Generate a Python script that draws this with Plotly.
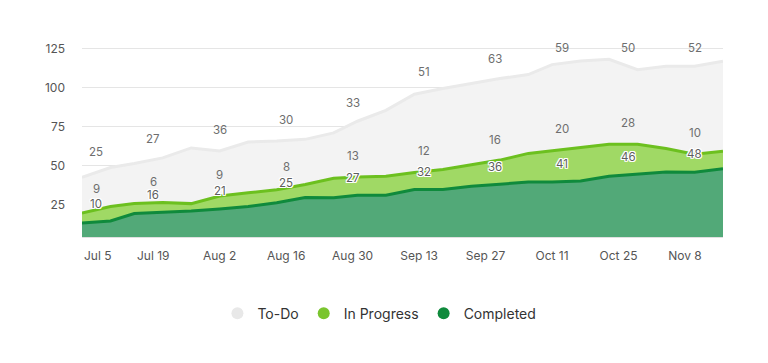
import numpy as np
import pandas as pd
import plotly.graph_objects as go

# ---- data ----
dates = ["2020-07-04", "2020-07-10", "2020-07-15", "2020-07-21", "2020-07-27", "2020-08-02",
         "2020-08-08", "2020-08-14", "2020-08-20", "2020-08-26", "2020-08-31", "2020-09-06",
         "2020-09-12", "2020-09-18", "2020-09-24", "2020-09-30", "2020-10-06", "2020-10-11",
         "2020-10-17", "2020-10-23", "2020-10-29", "2020-11-04", "2020-11-10", "2020-11-16"]
completed = [13.2, 14.5, 19.2, 20.0, 20.9, 22.2, 23.8, 26.2, 29.5, 29.3, 31.0, 31.0,
             34.6, 34.6, 36.8, 38.0, 39.5, 39.5, 40.1, 43.1, 44.4, 45.9, 45.7, 48.0]
in_progress = [6.4, 9.3, 6.4, 6.3, 4.7, 8.3, 8.7, 8.3, 8.3, 12.5, 11.7, 12.2,
               10.9, 12.9, 13.7, 15.5, 18.3, 20.0, 21.5, 20.6, 19.2, 15.0, 11.5, 11.2]
todo = [22.9, 24.9, 25.7, 28.6, 35.7, 28.9, 32.6, 31.2, 29.0, 29.1, 35.7, 42.2,
        50.2, 51.9, 52.1, 52.3, 50.5, 55.2, 55.4, 54.4, 47.9, 52.8, 56.5, 57.7]

label_dates = ["2020-07-07", "2020-07-19", "2020-08-02", "2020-08-16", "2020-08-30",
               "2020-09-14", "2020-09-29", "2020-10-13", "2020-10-27", "2020-11-10"]
todo_labels = [25, 27, 36, 30, 33, 51, 63, 59, 50, 52]
in_progress_labels = [9, 6, 9, 8, 13, 12, 16, 20, 28, 10]
completed_labels = [10, 16, 21, 25, 27, 32, 36, 41, 46, 48]

tick_dates = ["2020-07-05", "2020-07-19", "2020-08-02", "2020-08-16", "2020-08-30",
              "2020-09-13", "2020-09-27", "2020-10-11", "2020-10-25", "2020-11-08"]
tick_text = ["Jul 5", "Jul 19", "Aug 2", "Aug 16", "Aug 30",
             "Sep 13", "Sep 27", "Oct 11", "Oct 25", "Nov 8"]
y_ticks = [25, 50, 75, 100, 125]

# ---- styles ----
C_TODO_FILL, C_TODO_LINE = "#f3f3f3", "#eaeaea"
C_IP_FILL, C_IP_LINE = "#a0d965", "#6cc01f"
C_DONE_FILL, C_DONE_LINE = "#52a978", "#0f8a3c"
FONT = "Inter"
Y_RANGE = [4.2, 136.9]
PLOT_H = 363 - 30 - 126
PX_PER_UNIT = PLOT_H / (Y_RANGE[1] - Y_RANGE[0])
TICK_FONT = dict(family=FONT, size=12, color="#555555")

fig = go.Figure()
series = [("Completed", completed, C_DONE_FILL, C_DONE_LINE),
          ("In Progress", in_progress, C_IP_FILL, C_IP_LINE),
          ("To-Do", todo, C_TODO_FILL, C_TODO_LINE)]
for name, vals, fc, lc in series:
    fig.add_trace(go.Scatter(x=dates, y=vals, name=name, stackgroup="one", mode="lines",
                             line=dict(color=lc, width=3), fillcolor=fc, showlegend=False))

# legend entries as circles
for name, col in [("To-Do", "#e8e8e8"), ("In Progress", "#7ac52e"), ("Completed", "#0f8a3c")]:
    fig.add_trace(go.Scatter(x=[None], y=[None], mode="markers", name=name,
                             marker=dict(color=col, size=12, symbol="circle")))

# data labels
xnum = pd.to_datetime(pd.Series(dates)).astype("int64").to_numpy()
lnum = pd.to_datetime(pd.Series(label_dates)).astype("int64").to_numpy()
cum_done = np.array(completed)
cum_ip = cum_done + np.array(in_progress)
cum_todo = cum_ip + np.array(todo)
annotations = []
for cum, labels, halo, shift in [(cum_todo, todo_labels, False, 20.5),
                                 (cum_ip, in_progress_labels, False, 20.9),
                                 (cum_done, completed_labels, True, 17.8)]:
    tops = np.interp(lnum, xnum, cum)
    for d, t, lab in zip(label_dates, tops, labels):
        font = dict(family=FONT, size=11.5, color="#6e6e6e")
        if halo:
            font["color"] = "#5e5e5e"
            font["shadow"] = ("1px 1px 0 #fff, -1px -1px 0 #fff, 1px -1px 0 #fff, -1px 1px 0 #fff,"
                              " 0 1px 0 #fff, 0 -1px 0 #fff, 1px 0 0 #fff, -1px 0 0 #fff")
        y, ys = t, shift
        if t + shift / PX_PER_UNIT > 125.3:   # keep labels inside the top gridline
            y, ys = 125.3, 0
        annotations.append(dict(x=d, y=y, yshift=ys, text=str(lab), showarrow=False,
                                xref="x", yref="y", font=font, yanchor="middle"))

# first x label is kept flush with the plot's left edge (as in the reference)
annotations.append(dict(x=dates[0], xref="x", xanchor="left", y=0, yref="paper",
                        yanchor="middle", yshift=-18, text=tick_text[0], showarrow=False,
                        font=TICK_FONT))

fig.update_layout(
    width=768, height=363,
    margin=dict(l=82, r=45, t=30, b=126),
    paper_bgcolor="white", plot_bgcolor="white",
    font=dict(family=FONT, color="#555555", size=12),
    annotations=annotations,
    showlegend=True,
    legend=dict(orientation="h", x=0.464, xanchor="center", y=-0.37, yanchor="middle",
                traceorder="normal", itemwidth=30,
                font=dict(family=FONT, size=14, color="#333333"), itemsizing="constant"),
    xaxis=dict(type="date", range=[dates[0], dates[-1]], tickvals=tick_dates[1:],
               ticktext=tick_text[1:],
               showgrid=False, showline=True, linecolor="#e0e0e0", linewidth=1, ticks="",
               ticklabelstandoff=8, tickfont=TICK_FONT, zeroline=False),
    yaxis=dict(range=Y_RANGE, tickvals=y_ticks, showgrid=True, gridcolor="#e5e5e5",
               gridwidth=1, zeroline=False, ticks="", ticklabelstandoff=16,
               tickfont=TICK_FONT),
)

fig.write_html("out.html")
